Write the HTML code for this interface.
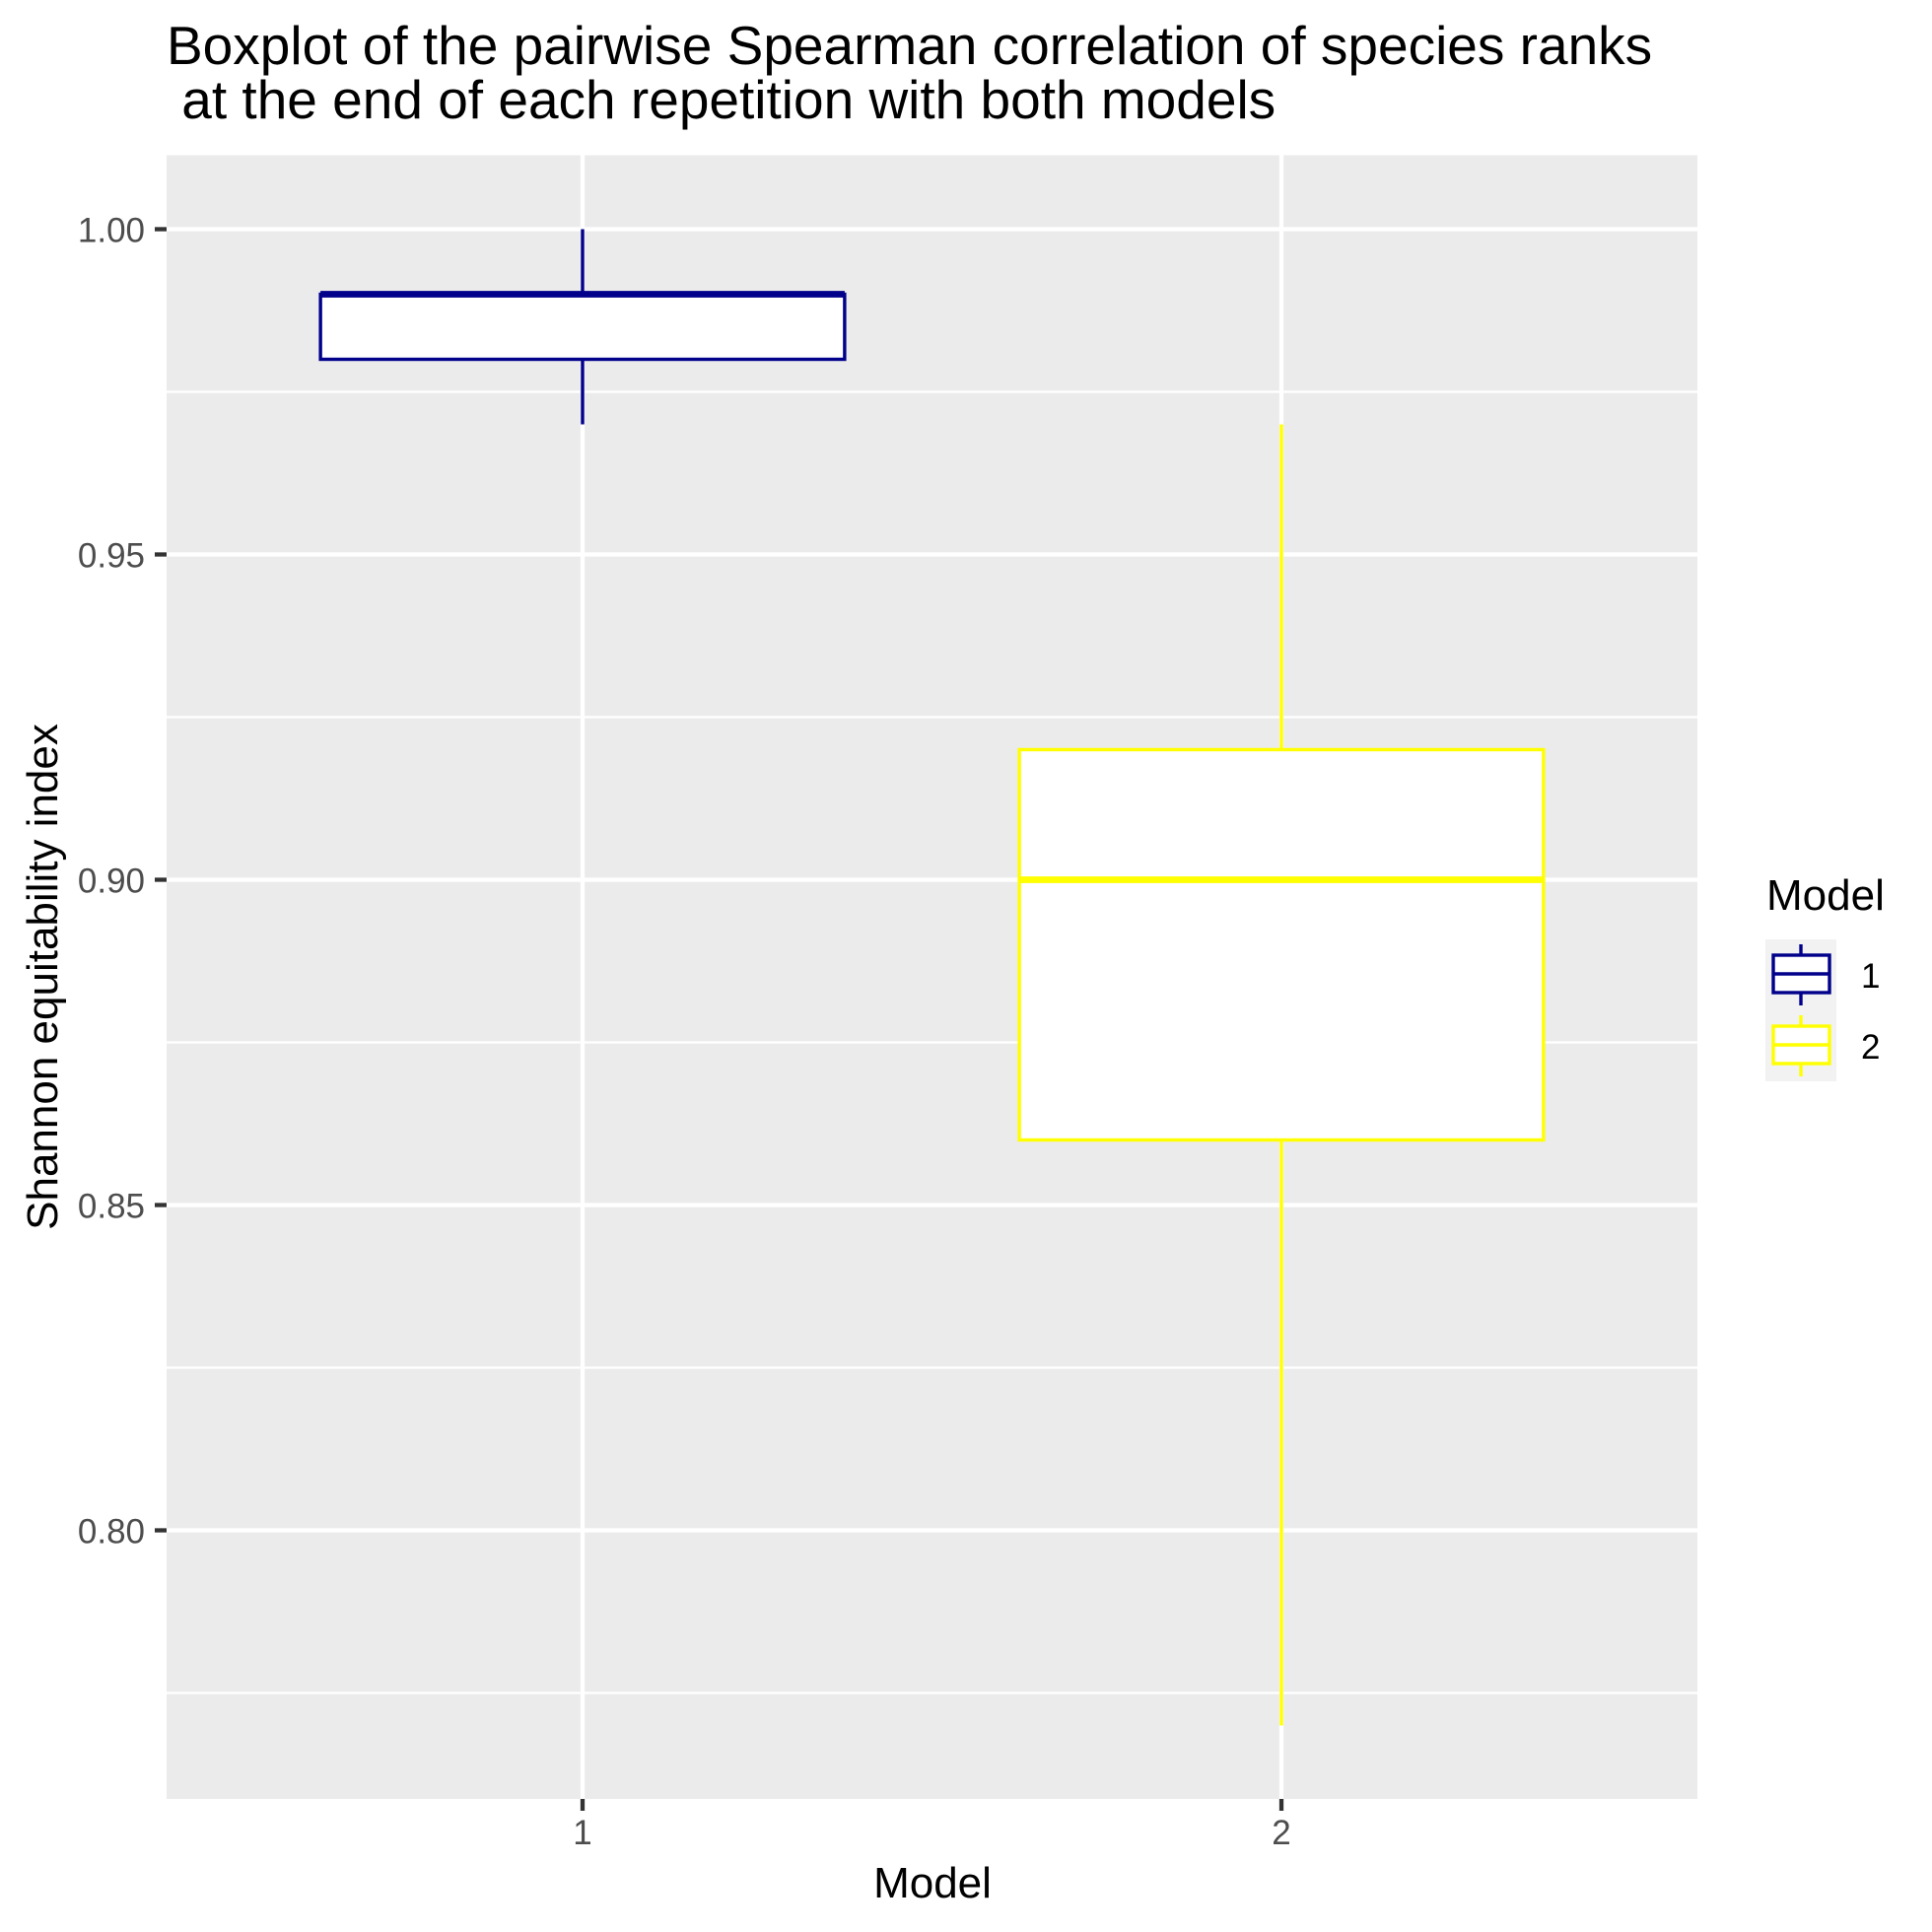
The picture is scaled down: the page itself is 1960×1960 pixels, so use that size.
<!DOCTYPE html>
<html><head><meta charset="utf-8"><style>
html,body{margin:0;padding:0;background:#fff;}
svg{display:block;font-family:"Liberation Sans",sans-serif;}
</style></head><body>
<svg id="chart" width="1960" height="1960" viewBox="0 0 1960 1960">
<text x="169" y="65" font-size="55" fill="#000">Boxplot of the pairwise Spearman correlation of species ranks</text>
<text x="169" y="120" font-size="55" fill="#000" xml:space="preserve" style="white-space:pre"> at the end of each repetition with both models</text>
<rect x="169" y="157.5" width="1553" height="1667.5" fill="#ebebeb"/>
<g id="grid"></g>
<g id="boxes"></g>
<g id="axes"></g>
<text x="946" y="1925" font-size="44" text-anchor="middle" fill="#000">Model</text>
<text transform="translate(58,991) rotate(-90)" font-size="44" text-anchor="middle" fill="#000">Shannon equitability index</text>
<g>
<text x="1792" y="923" font-size="44" fill="#000">Model</text>
<rect x="1791" y="953" width="72" height="144" fill="#f2f2f2"/>
<g>
<line x1="1827" y1="958" x2="1827" y2="1020" stroke="#00008b" stroke-width="3.4"/>
<rect x="1799" y="969" width="57" height="38" fill="#fff" stroke="#00008b" stroke-width="3.4"/>
<line x1="1799" y1="988" x2="1856" y2="988" stroke="#00008b" stroke-width="3.4"/>
<text x="1888" y="1002" font-size="35" fill="#000">1</text>
</g>
<g>
<line x1="1827" y1="1030" x2="1827" y2="1092" stroke="#ffff00" stroke-width="3.4"/>
<rect x="1799" y="1041" width="57" height="38" fill="#fff" stroke="#ffff00" stroke-width="3.4"/>
<line x1="1799" y1="1060" x2="1856" y2="1060" stroke="#ffff00" stroke-width="3.4"/>
<text x="1888" y="1074" font-size="35" fill="#000">2</text>
</g>
</g>
</svg>
<script>
const categories = ["1", "2"];
const lowerWhisker = [0.97, 0.77];
const q1Values = [0.98, 0.86];
const medianValues = [0.99, 0.90];
const q3Values = [0.99, 0.92];
const upperWhisker = [1.00, 0.97];
const yTicks = [0.80, 0.85, 0.90, 0.95, 1.00];
const yTickLabels = ["0.80", "0.85", "0.90", "0.95", "1.00"];
const colors = ["#00008b", "#ffff00"];

const NS = "http://www.w3.org/2000/svg";
const panel = {x0:169, x1:1722, y0:157.5, y1:1825};
const y100 = 232.5, y080 = 1552.5;
const pxPerUnit = (y080 - y100) / 0.2;
function yScale(v){ return y100 + (1.0 - v) * pxPerUnit; }
const yMin = 1.0 - (panel.y1 - y100) / pxPerUnit, yMax = 1.0 + (y100 - panel.y0) / pxPerUnit;
function xScale(i){ return 591 + i * 709; }
const bandUnit = 709;
function mk(tag, attrs, parent){ const e = document.createElementNS(NS, tag); for (const k in attrs) e.setAttribute(k, attrs[k]); parent.appendChild(e); return e; }

const grid = document.getElementById('grid');
const axes = document.getElementById('axes');
const minors = yTicks.map(t => t + 0.025).concat([yTicks[0] - 0.025]);
minors.forEach(m => {
  if (m < yMax && m > yMin) {
    const l = mk('line', {x1:panel.x0, x2:panel.x1, y1:yScale(m), y2:yScale(m), stroke:'#fff', 'stroke-width':2.2}, grid);
    
    
  }
});
yTicks.forEach((t, i) => {
  const y = yScale(t);
  const g = mk('line', {x1:panel.x0, x2:panel.x1, y1:y, y2:y, stroke:'#fff', 'stroke-width':4.3}, grid);
  
  
  const tk = mk('line', {x1:panel.x0 - 12, x2:panel.x0, y1:y, y2:y, stroke:'#333', 'stroke-width':4.3}, axes);
  
  
  const tx = mk('text', {x:147, y:y + 13, 'font-size':35, 'text-anchor':'end', fill:'#4d4d4d'}, axes);
  tx.textContent = yTickLabels[i];
  
  
});
categories.forEach((c, i) => {
  const x = xScale(i);
  const g = mk('line', {x1:x, x2:x, y1:panel.y0, y2:panel.y1, stroke:'#fff', 'stroke-width':4.3}, grid);
  
  
  const tk = mk('line', {x1:x, x2:x, y1:panel.y1, y2:panel.y1 + 12, stroke:'#333', 'stroke-width':4.3}, axes);
  
  
  const tx = mk('text', {x:x, y:1871, 'font-size':35, 'text-anchor':'middle', fill:'#4d4d4d'}, axes);
  tx.textContent = c;
  
  
});
const boxes = document.getElementById('boxes');
categories.forEach((c, i) => {
  const x = xScale(i), hw = bandUnit * 0.75 / 2, col = colors[i];
  const g = mk('g', {}, boxes);
  
  
  mk('line', {x1:x, x2:x, y1:yScale(upperWhisker[i]), y2:yScale(q3Values[i]), stroke:col, 'stroke-width':3.4}, g);
  mk('line', {x1:x, x2:x, y1:yScale(q1Values[i]), y2:yScale(lowerWhisker[i]), stroke:col, 'stroke-width':3.4}, g);
  mk('rect', {x:x - hw, y:yScale(q3Values[i]), width:2 * hw, height:yScale(q1Values[i]) - yScale(q3Values[i]), fill:'#fff', stroke:col, 'stroke-width':3.4}, g);
  mk('line', {x1:x - hw, x2:x + hw, y1:yScale(medianValues[i]), y2:yScale(medianValues[i]), stroke:col, 'stroke-width':6.8}, g);
});
</script>
</body></html>
